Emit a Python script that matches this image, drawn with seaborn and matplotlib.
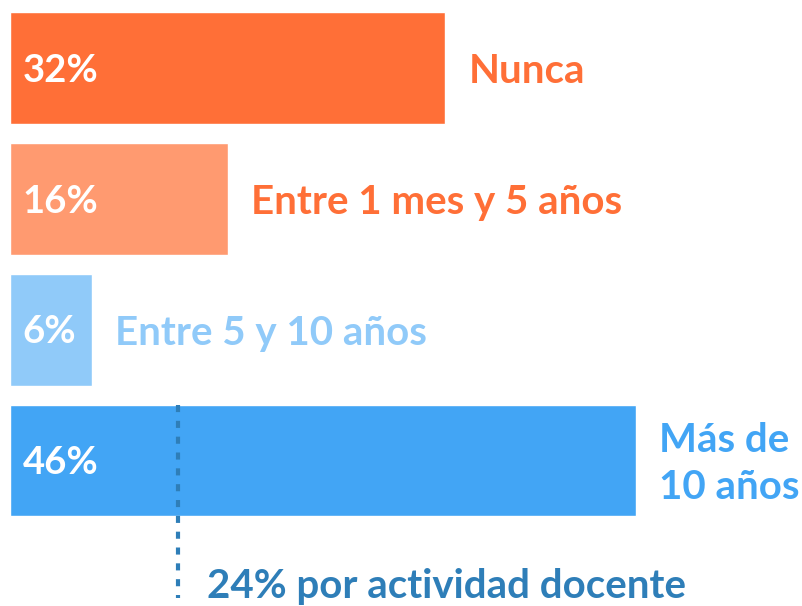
import matplotlib
matplotlib.use("Agg")
import matplotlib.pyplot as plt
import seaborn as sns
import pandas as pd

# datos
categorias = ["Nunca", "Entre 1 mes y 5 años", "Entre 5 y 10 años", "Más de\n10 años"]
porcentajes = [32, 16, 6, 46]
colores_barra = ["#FF6F37", "#FF9A70", "#90CAF9", "#42A5F5"]
colores_texto = ["#FF6F37", "#FF6F37", "#90CAF9", "#42A5F5"]
docente_valor = 12.35
docente_texto = "24% por actividad docente"
color_docente = "#2E7EB8"

sns.set_theme(style="white")
plt.rcParams["font.family"] = ["Lato", "DejaVu Sans"]

df = pd.DataFrame({"cat": categorias, "pct": porcentajes})

fig = plt.figure(figsize=(8.03, 6.06), dpi=100)
ax = fig.add_axes([10 / 803, 0, 793 / 803, 1])

sns.barplot(data=df, x="pct", y="cat", hue="cat", palette=colores_barra,
            width=0.855, legend=False, orient="h", ax=ax, saturation=1)

ax.set_xlim(0, 793 / 13.6)
ax.set_ylim(4.113, -0.52)
ax.axis("off")

for i, (v, lab, c) in enumerate(zip(porcentajes, categorias, colores_texto)):
    ax.annotate(f"{v}%", xy=(0, i), xytext=(9, -2), textcoords="offset points",
                ha="left", va="center", color="white", fontsize=27.5, fontweight="bold")
    ax.annotate(lab, xy=(v, i), xytext=(17, -2.5), textcoords="offset points",
                ha="left", va="center", color=c, fontsize=29, fontweight="bold",
                linespacing=1.32)

# linea de actividad docente
ax.plot([docente_valor, docente_valor], [3 - 0.855 / 2, 4.05], color=color_docente,
        lw=3, linestyle=(0, (1.7, 2.1)))
ax.annotate(docente_texto, xy=(docente_valor, 3.94), xytext=(21, -2),
            textcoords="offset points", ha="left", va="center",
            color=color_docente, fontsize=29, fontweight="bold")

fig.savefig("out.png", dpi=100)
